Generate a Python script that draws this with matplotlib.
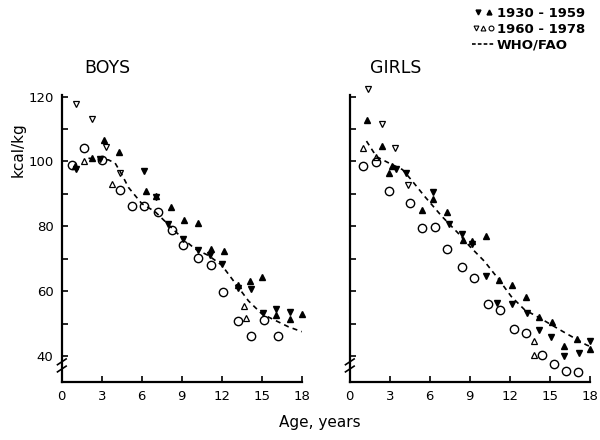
import numpy as np
import matplotlib.pyplot as plt
from matplotlib.lines import Line2D
from matplotlib.legend_handler import HandlerTuple

# ---- BOYS ----
# 1930-1959, filled triangles
boys_up_age = [1.0, 2.3, 3.2, 4.3, 6.3, 7.1, 8.2, 9.2, 10.2, 11.2, 12.2, 13.2, 14.1, 15.0, 16.1, 17.1, 18.0]
boys_up_val = [98.5, 101.0, 106.5, 102.8, 91.0, 89.5, 86.0, 81.8, 81.0, 73.0, 72.5, 62.0, 63.0, 64.4, 52.5, 51.5, 53.0]
boys_dn_age = [1.1, 2.9, 6.15, 7.1, 8.0, 9.1, 10.2, 11.1, 12.0, 13.2, 14.2, 15.1, 16.1, 17.1]
boys_dn_val = [97.8, 100.8, 97.2, 89.0, 80.8, 76.0, 72.8, 71.0, 68.5, 61.0, 60.8, 53.3, 54.5, 53.5]
# 1960-1978, open symbols
boys_dno_age = [1.1, 2.3, 3.3, 4.35]
boys_dno_val = [117.6, 113.0, 104.6, 96.3]
boys_upo_age = [1.7, 3.75, 13.7, 13.8]
boys_upo_val = [100.0, 93.2, 55.5, 51.8]
boys_c_age = [0.75, 1.7, 3.0, 4.4, 5.25, 6.2, 7.2, 8.3, 9.1, 10.2, 11.2, 12.1, 13.2, 14.2, 15.2, 16.2]
boys_c_val = [98.8, 104.3, 100.5, 91.3, 86.4, 86.4, 84.5, 79.0, 74.3, 70.3, 68.0, 59.8, 50.9, 46.2, 51.2, 46.2]
# WHO/FAO
boys_who_age = [2.0, 3.5, 4.0, 4.5, 5.0, 6.0, 7.0, 8.0, 9.0, 10.0, 11.0, 12.0, 13.0, 14.0, 15.0, 16.0, 17.0, 18.0]
boys_who_val = [101.0, 100.5, 99.5, 96.0, 92.0, 87.0, 84.5, 80.5, 76.5, 73.0, 71.0, 68.0, 62.5, 57.0, 53.0, 51.0, 49.0, 47.5]

# ---- GIRLS ----
girls_up_age = [1.3, 2.4, 2.95, 3.2, 5.4, 6.25, 7.3, 8.5, 9.2, 10.25, 11.2, 12.2, 13.2, 14.2, 15.2, 16.1, 17.05, 18.0]
girls_up_val = [112.8, 104.7, 96.3, 98.5, 85.0, 88.3, 84.5, 75.7, 75.5, 77.1, 63.5, 62.0, 58.1, 51.9, 50.4, 43.2, 45.2, 42.3]
girls_dn_age = [3.5, 4.25, 6.25, 7.45, 8.4, 9.2, 10.2, 11.05, 12.2, 13.3, 14.2, 15.1, 16.1, 17.2, 18.0]
girls_dn_val = [97.8, 96.5, 90.5, 80.7, 77.6, 74.5, 64.8, 56.3, 56.1, 53.2, 48.0, 46.0, 40.1, 40.9, 44.5]
girls_dno_age = [1.33, 2.4, 3.4, 4.4]
girls_dno_val = [122.5, 111.7, 104.2, 92.9]
girls_upo_age = [1.0, 1.95, 13.8, 13.8]
girls_upo_val = [104.2, 101.5, 44.5, 40.3]
girls_c_age = [1.0, 1.95, 2.95, 4.55, 5.4, 6.4, 7.3, 8.4, 9.3, 10.4, 11.25, 12.3, 13.25, 14.4, 15.3, 16.2, 17.1]
girls_c_val = [98.5, 99.8, 90.8, 87.2, 79.5, 79.8, 73.1, 67.3, 64.2, 56.0, 54.2, 48.4, 47.2, 40.3, 37.6, 35.5, 35.2]
girls_who_age = [1.25, 2.0, 2.85, 3.95, 4.6, 5.6, 6.9, 8.1, 9.0, 10.1, 11.1, 12.1, 13.1, 14.25, 16.0, 17.75, 18.0]
girls_who_val = [106.3, 101.5, 99.7, 97.5, 94.4, 89.3, 83.1, 78.0, 73.8, 69.2, 64.0, 58.4, 54.3, 51.7, 47.5, 43.4, 43.0]

x_ticks = [0, 3, 6, 9, 12, 15, 18]
y_ticks = [40, 60, 80, 100, 120]
y_minor = [50, 70, 90, 110]

plt.rcParams['font.family'] = ['DejaVu Sans']

fig = plt.figure(figsize=(6, 4.4), dpi=100)
ax1 = fig.add_axes([0.103, 0.132, 0.40, 0.652])
ax2 = fig.add_axes([0.583, 0.132, 0.40, 0.652])

filled = dict(linestyle='none', color='black', markersize=5, clip_on=False)
opened = dict(linestyle='none', markerfacecolor='none', markeredgecolor='black',
              markeredgewidth=0.9, markersize=5, clip_on=False)
circ = dict(linestyle='none', marker='o', markerfacecolor='none', markeredgecolor='black',
            markeredgewidth=1.0, markersize=6, clip_on=False)


def panel(ax, up_a, up_v, dn_a, dn_v, dno_a, dno_v, upo_a, upo_v, c_a, c_v, w_a, w_v, title):
    ax.plot(w_a, w_v, color='black', lw=1.2, dashes=(3, 2.5))
    ax.plot(c_a, c_v, **circ)
    ax.plot(upo_a, upo_v, marker='^', **opened)
    ax.plot(dno_a, dno_v, marker='v', **opened)
    ax.plot(up_a, up_v, marker='^', **filled)
    ax.plot(dn_a, dn_v, marker='v', **filled)
    ax.set_xlim(0, 18)
    ax.set_ylim(32, 120.5)
    ax.set_xticks(x_ticks)
    ax.set_yticks(y_ticks)
    ax.set_yticks(y_minor, minor=True)
    ax.tick_params(which='both', direction='in', length=4, width=1.2, labelsize=9.5, pad=6)
    for s in ['top', 'right']:
        ax.spines[s].set_visible(False)
    for s in ['left', 'bottom']:
        ax.spines[s].set_linewidth(1.6)
    # axis break mark
    for yy in (0.045, 0.07):
        ax.plot([-0.018, 0.018], [yy - 0.01, yy + 0.01], transform=ax.transAxes,
                color='black', lw=1.2, clip_on=False)
    ax.text(0.19, 1.095, title, transform=ax.transAxes, fontsize=12.5, ha='center', va='center')


panel(ax1, boys_up_age, boys_up_val, boys_dn_age, boys_dn_val, boys_dno_age, boys_dno_val,
      boys_upo_age, boys_upo_val, boys_c_age, boys_c_val, boys_who_age, boys_who_val, 'BOYS')
panel(ax2, girls_up_age, girls_up_val, girls_dn_age, girls_dn_val, girls_dno_age, girls_dno_val,
      girls_upo_age, girls_upo_val, girls_c_age, girls_c_val, girls_who_age, girls_who_val, 'GIRLS')
ax2.tick_params(axis='y', labelleft=False)

fig.text(0.03, 0.66, 'kcal/kg', rotation=90, fontsize=11, ha='center', va='center')
fig.text(0.533, 0.04, 'Age, years', fontsize=11, ha='center', va='center')

# legend
lf = dict(linestyle='none', color='black', markersize=3.5)
lo = dict(linestyle='none', markerfacecolor='none', markeredgecolor='black', markeredgewidth=0.8, markersize=3.5)
h1 = (Line2D([], [], marker='v', **lf), Line2D([], [], marker='^', **lf))
h2 = (Line2D([], [], marker='v', **lo), Line2D([], [], marker='^', **lo), Line2D([], [], marker='o', **lo))
h3 = Line2D([], [], color='black', lw=1.2, dashes=(2.2, 1.3))
fig.legend([h1, h2, h3], ['1930 - 1959', '1960 - 1978', 'WHO/FAO'],
           handler_map={tuple: HandlerTuple(ndivide=None, pad=0.05)},
           loc='upper right', bbox_to_anchor=(0.99, 1.005), frameon=False,
           prop=dict(size=9.5, weight='bold'),
           handlelength=1.7, handletextpad=0.15, labelspacing=0.22, borderpad=0.2)

fig.savefig('out.png', dpi=100)
